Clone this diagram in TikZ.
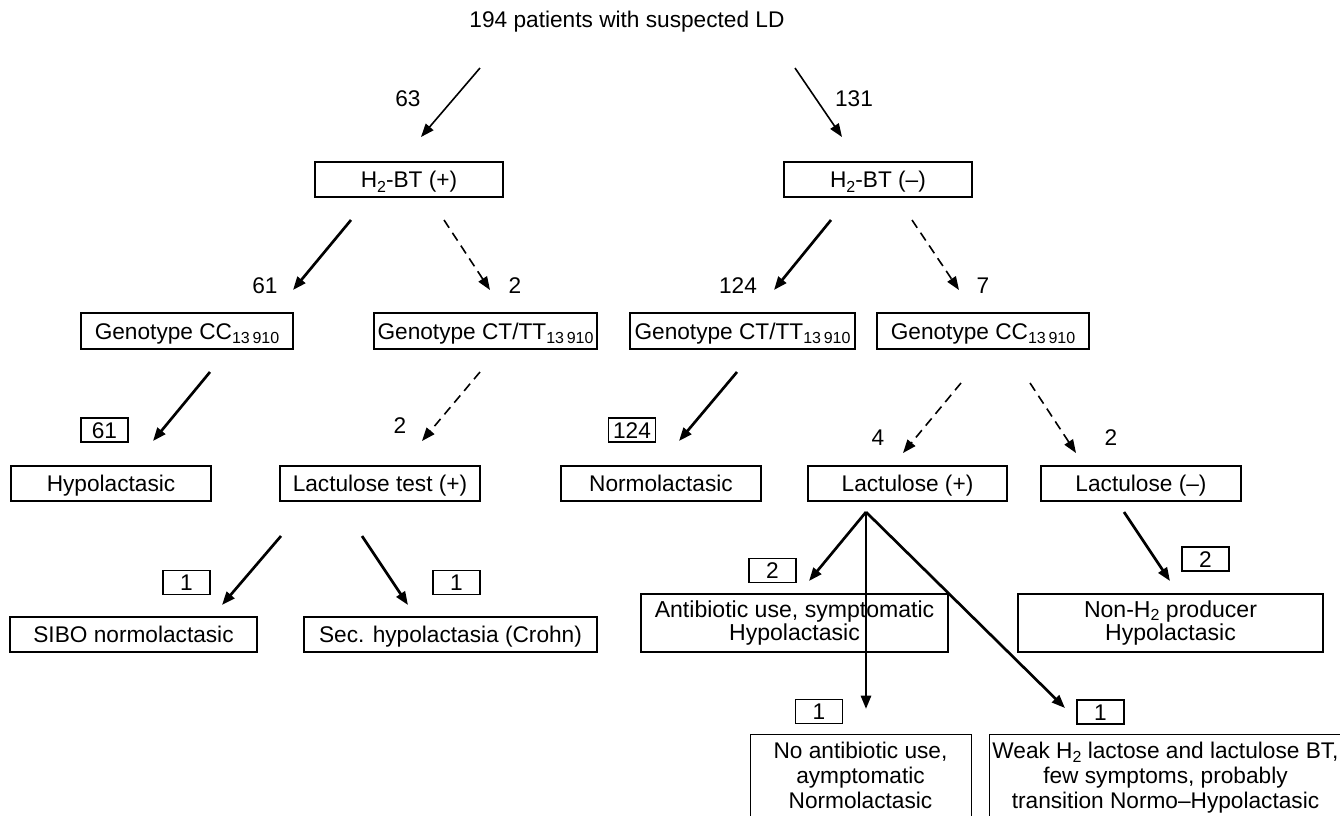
\documentclass[tikz,border=0pt]{standalone}
\usepackage{fontspec}
\setmainfont{Liberation Sans}
\usetikzlibrary{arrows.meta,calc}
\newcommand\lowsub[2][-3.6pt]{\raisebox{#1}{\fontsize{12}{12}\selectfont #2}}
\begin{document}
\begin{tikzpicture}[x=0.75pt,y=-0.75pt,
  font=\fontsize{17}{18}\selectfont,
  box/.style={draw, line width=1pt, inner sep=0pt, align=center, minimum height=35*0.75pt, text height=12.2pt, text depth=0pt},
  tallbox/.style={draw, line width=1pt, inner sep=0pt, align=center, minimum height=58*0.75pt, font=\fontsize{17.3}{17.8}\selectfont},
  num/.style={draw, line width=1pt, inner sep=0pt, minimum width=47*0.75pt, minimum height=24*0.75pt, text height=12.2pt, text depth=0pt},
  lab/.style={inner sep=0pt},
  solidarr/.style={-{Triangle[length=10pt,width=7.5pt]}, line width=2pt},
  thinarr/.style={-{Triangle[length=10pt,width=7.5pt]}, line width=1.2pt},
  dasharr/.style={-{Triangle[length=10pt,width=7.5pt]}, line width=1.2pt, dash pattern=on 7pt off 4.5pt},
  lowtext/.style={inner sep=0pt, align=center, anchor=north, font=\fontsize{17}{18.6}\selectfont},
  lowbox/.style={draw, line width=1pt, inner sep=0pt, anchor=north west, minimum height=110*0.75pt}
]
\useasboundingbox (0,0) rectangle (1340,815);
\clip (0,0) rectangle (1340,815);

% top
\node[lab] (top) at (627,22) {194 patients with suspected LD};

% level 1
\node[box, minimum width=188*0.75pt] (h2p) at (409,179.5) {H\lowsub{2}-BT (+)};
\node[box, minimum width=188*0.75pt] (h2n) at (878,179.5) {H\lowsub{2}-BT (–)};

% level 2
\node[box, minimum width=212*0.75pt, minimum height=36*0.75pt] (g1) at (187,331) {Genotype CC\lowsub{13\,910}};
\node[box, minimum width=223*0.75pt, minimum height=36*0.75pt] (g2) at (485.5,331) {Genotype CT/TT\lowsub{13\,910}};
\node[box, minimum width=225*0.75pt, minimum height=36*0.75pt] (g3) at (742.5,331) {Genotype CT/TT\lowsub{13\,910}};
\node[box, minimum width=212*0.75pt, minimum height=36*0.75pt] (g4) at (983,331) {Genotype CC\lowsub{13\,910}};

% level 3
\node[box, minimum width=200*0.75pt] (hypo) at (111,483.5) {Hypolactasic};
\node[box, minimum width=200*0.75pt] (lt) at (380,483.5) {Lactulose test (+)};
\node[box, minimum width=200*0.75pt] (normo) at (661,483.5) {Normolactasic};
\node[box, minimum width=199*0.75pt] (lp) at (907.5,483.5) {Lactulose (+)};
\node[box, minimum width=200*0.75pt] (ln) at (1141,483.5) {Lactulose (–)};

% level 4
\node[box, minimum width=247*0.75pt] (sibo) at (133.5,634.5) {SIBO normolactasic};
\node[box, minimum width=293*0.75pt] (sec) at (450.5,634.5) {Sec. hypolactasia (Crohn)};
\node[tallbox, minimum width=307*0.75pt] (anti) at (794.5,623) {Antibiotic use, symptomatic\\Hypolactasic};
\node[tallbox, minimum width=305*0.75pt] (nonh) at (1170.5,623) {Non-H\lowsub[-2.8pt]{2} producer\\Hypolactasic};

% level 5 (cut at bottom / right)
\node[lowbox, minimum width=221*0.75pt] (noantibox) at (750,734) {};
\node[lowtext] (noanti) at (860.5,742) {No antibiotic use,\\aymptomatic\\Normolactasic};
\node[lowbox, minimum width=360*0.75pt] (weakbox) at (989,734) {};
\node[lowtext] (weak) at (1165.5,742) {Weak H\lowsub[-2.8pt]{2} lactose and lactulose BT,\\few symptoms, probably\\transition Normo–Hypolactasic};

% numbers (plain)
\node[lab] (n63) at (408,99) {63};
\node[lab] (n131) at (854,99) {131};
\node[lab] (n61) at (265,286) {61};
\node[lab] (n2a) at (515,286) {2};
\node[lab] (n124) at (738,286) {124};
\node[lab] (n7) at (983,286) {7};
\node[lab] (n2b) at (400,426) {2};
\node[lab] (n4) at (878,438) {4};
\node[lab] (n2c) at (1111,438) {2};

% numbers (boxed)
\node[num] (b61) at (104.5,430) {61};
\node[num] (b124) at (632,430) {124};
\node[num] (b1a) at (186.5,582.5) {1};
\node[num] (b1b) at (456.5,582.5) {1};
\node[num] (b2a) at (772.5,570.5) {2};
\node[num] (b2b) at (1205.5,559) {2};
\node[num] (b1c) at (819,711.5) {1};
\node[num] (b1d) at (1100.5,712) {1};

% arrow end points
\coordinate (a1s) at (480,68);   \coordinate (a1e) at (421,137);
\coordinate (a2s) at (795,68);   \coordinate (a2e) at (842,137);
\coordinate (a3s) at (351,220);  \coordinate (a3e) at (293,290);
\coordinate (a4s) at (444,220);  \coordinate (a4e) at (490,290);
\coordinate (a5s) at (831,220);  \coordinate (a5e) at (774,290);
\coordinate (a6s) at (912,220);  \coordinate (a6e) at (959,290);
\coordinate (a7s) at (210,372);  \coordinate (a7e) at (153,441);
\coordinate (a8s) at (480,372);  \coordinate (a8e) at (422,441);
\coordinate (a9s) at (737,372);  \coordinate (a9e) at (679,441);
\coordinate (a10s) at (961,383); \coordinate (a10e) at (903,453);
\coordinate (a11s) at (1030,383);\coordinate (a11e) at (1076,453);
\coordinate (a12s) at (281,536); \coordinate (a12e) at (222,605);
\coordinate (a13s) at (362,536); \coordinate (a13e) at (408,605);
\coordinate (fan) at (866,512);
\coordinate (a14e) at (809,581);
\coordinate (a15e) at (866,709);
\coordinate (a16e) at (1065,708);
\coordinate (a17s) at (1124,512);\coordinate (a17e) at (1170,581);

\draw[thinarr] (a1s) -- (a1e);
\draw[thinarr] (a2s) -- (a2e);
\draw[solidarr] (a3s) -- (a3e);
\draw[dasharr] (a4s) -- (a4e);
\draw[solidarr] (a5s) -- (a5e);
\draw[dasharr] (a6s) -- (a6e);
\draw[solidarr] (a7s) -- (a7e);
\draw[dasharr] (a8s) -- (a8e);
\draw[solidarr] (a9s) -- (a9e);
\draw[dasharr] (a10s) -- (a10e);
\draw[dasharr] (a11s) -- (a11e);
\draw[solidarr] (a12s) -- (a12e);
\draw[solidarr] (a13s) -- (a13e);
\draw[solidarr] (fan) -- (a14e);
\draw[solidarr] (fan) -- (a15e);
\draw[solidarr] (fan) -- (a16e);
\draw[solidarr] (a17s) -- (a17e);
\end{tikzpicture}
\end{document}
